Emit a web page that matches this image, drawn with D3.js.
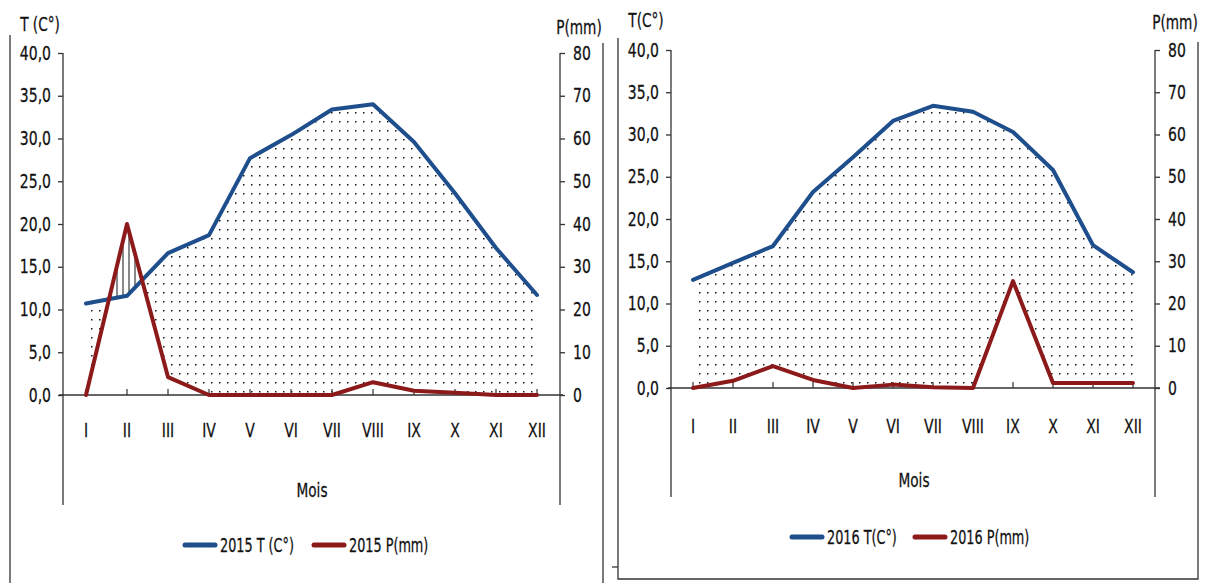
<!DOCTYPE html>
<html>
<head>
<meta charset="utf-8">
<script src="https://cdn.jsdelivr.net/npm/d3@7"></script>
<style>
  html, body { margin: 0; padding: 0; background: #fff; }
  svg { display: block; }
  text { font-family: "DejaVu Sans Condensed", "DejaVu Sans", sans-serif; fill: #111; stroke: #111; stroke-width: 0.25px; }
</style>
</head>
<body>
<svg id="chart" width="1205" height="583"></svg>
<script>
// Monthly climate data (temperature in °C, precipitation in mm)
const months = ["I", "II", "III", "IV", "V", "VI", "VII", "VIII", "IX", "X", "XI", "XII"];
const temp2015 = [10.7, 11.6, 16.6, 18.7, 27.7, 30.4, 33.4, 34.0, 29.6, 23.6, 17.2, 11.7];
const precip2015 = [0, 40, 4.2, 0, 0, 0, 0, 3.0, 1.0, 0.5, 0, 0];
const temp2016 = [12.8, 14.8, 16.8, 23.2, 27.3, 31.6, 33.4, 32.7, 30.3, 25.8, 16.9, 13.7];
const precip2016 = [0, 1.7, 5.2, 1.9, 0, 0.8, 0.2, 0, 25.3, 1.2, 1.2, 1.2];
const tempTicks = [0, 5, 10, 15, 20, 25, 30, 35, 40];
const precipTicks = [0, 10, 20, 30, 40, 50, 60, 70, 80];

const BLUE = "#1f4e8c";
const RED = "#8c1a1a";
const FONT = 19;

// narrow the glyphs horizontally without moving the anchor point
function narrow(sel, s) {
  sel.each(function () {
    const t = d3.select(this);
    const x = +(t.attr("x") || 0);
    t.attr("x", x / s).attr("transform", `scale(${s},1)`);
  });
}

const svg = d3.select("#chart");
const defs = svg.append("defs");

// fill patterns: dots for the dry season, vertical hatching for the wet season
const dots = defs.append("pattern").attr("id", "dots")
  .attr("patternUnits", "userSpaceOnUse").attr("width", 8).attr("height", 9);
dots.append("rect").attr("x", 3).attr("y", 4).attr("width", 1.5).attr("height", 1.5).attr("fill", "#1a1a1a");

const hatch = defs.append("pattern").attr("id", "hatch")
  .attr("patternUnits", "userSpaceOnUse").attr("width", 6).attr("height", 10);
hatch.append("line").attr("x1", 3).attr("x2", 3).attr("y1", 0).attr("y2", 10)
  .attr("stroke", "#111").attr("stroke-width", 1);

const fmtT = d => d3.format(".1f")(d).replace(".", ",");

const panels = [
  {
    id: "p2015", temp: temp2015, precip: precip2015,
    xRange: [86, 537], yBottom: 395, yTop: 53, axisLeft: 63, axisRight: 560, axisEnd: 505,
    tTitle: "T (C°)", tTitlePos: [40, 31], pTitlePos: [579, 34],
    monthY: 437, moisPos: [312, 497],
    legendY: 545, legendText: ["2015 T (C°)", "2015 P(mm)"], legendX: [183, 312],
    xAxisSpan: [59, 563]
  },
  {
    id: "p2016", temp: temp2016, precip: precip2016,
    xRange: [693, 1133], yBottom: 388, yTop: 50, axisLeft: 671, axisRight: 1155, axisEnd: 497,
    tTitle: "T(C°)", tTitlePos: [646, 27], pTitlePos: [1175, 29],
    monthY: 433, moisPos: [914, 487],
    legendY: 537, legendText: ["2016 T(C°)", "2016 P(mm)"], legendX: [790, 913],
    xAxisSpan: [668, 1160]
  }
];

panels.forEach(p => {
  const g = svg.append("g");
  const x = d3.scalePoint().domain(months).range(p.xRange);
  const yT = d3.scaleLinear().domain([0, 40]).range([p.yBottom, p.yTop]);
  const yP = d3.scaleLinear().domain([0, 80]).range([p.yBottom, p.yTop]);

  const rows = months.map((m, i) => ({ m, t: p.temp[i], p: p.precip[i] }));

  // clip regions above each curve
  const aboveP = d3.area().x(d => x(d.m)).y0(0).y1(d => yP(d.p));
  const aboveT = d3.area().x(d => x(d.m)).y0(0).y1(d => yT(d.t));
  defs.append("clipPath").attr("id", p.id + "-aboveP").append("path").attr("d", aboveP(rows));
  defs.append("clipPath").attr("id", p.id + "-aboveT").append("path").attr("d", aboveT(rows));

  const underT = d3.area().x(d => x(d.m)).y0(p.yBottom).y1(d => yT(d.t));
  const underP = d3.area().x(d => x(d.m)).y0(p.yBottom).y1(d => yP(d.p));

  // dry period: temperature above precipitation
  g.append("path").attr("d", underT(rows)).attr("fill", "url(#dots)")
    .attr("clip-path", `url(#${p.id}-aboveP)`);
  // wet period: precipitation above temperature
  g.append("path").attr("d", underP(rows)).attr("fill", "url(#hatch)")
    .attr("clip-path", `url(#${p.id}-aboveT)`);

  // category axis
  g.append("line").attr("x1", p.xAxisSpan[0]).attr("x2", p.xAxisSpan[1])
    .attr("y1", p.yBottom).attr("y2", p.yBottom).attr("stroke", "#333").attr("stroke-width", 1.3);
  g.selectAll(".xt").data(months).join("line")
    .attr("x1", d => x(d)).attr("x2", d => x(d))
    .attr("y1", p.yBottom).attr("y2", p.yBottom - 6).attr("stroke", "#333").attr("stroke-width", 1.2);
  const ml = g.selectAll(".xl").data(months).join("text")
    .attr("x", d => x(d)).attr("y", p.monthY).attr("text-anchor", "middle")
    .attr("font-size", FONT).text(d => d);
  narrow(ml, 0.82);

  // temperature axis (left)
  const axT = d3.axisLeft(yT).tickValues(tempTicks).tickFormat(fmtT).tickSize(5).tickPadding(7);
  const gT = g.append("g").attr("transform", `translate(${p.axisLeft},0)`).call(axT);
  gT.attr("font-family", null);
  gT.select(".domain").remove();
  gT.selectAll(".tick line").attr("stroke", "#333").attr("stroke-width", 1.3);
  const tl = gT.selectAll(".tick text").attr("font-size", FONT).attr("fill", null);
  narrow(tl, 0.82);
  g.append("line").attr("x1", p.axisLeft).attr("x2", p.axisLeft)
    .attr("y1", p.yTop).attr("y2", p.axisEnd).attr("stroke", "#333").attr("stroke-width", 1.3);

  // precipitation axis (right)
  const axP = d3.axisRight(yP).tickValues(precipTicks).tickFormat(d3.format("d")).tickSize(5).tickPadding(8);
  const gP = g.append("g").attr("transform", `translate(${p.axisRight},0)`).call(axP);
  gP.attr("font-family", null);
  gP.select(".domain").remove();
  gP.selectAll(".tick line").attr("stroke", "#333").attr("stroke-width", 1.3);
  const pl = gP.selectAll(".tick text").attr("font-size", FONT).attr("fill", null);
  narrow(pl, 0.82);
  g.append("line").attr("x1", p.axisRight).attr("x2", p.axisRight)
    .attr("y1", p.yTop).attr("y2", p.axisEnd).attr("stroke", "#333").attr("stroke-width", 1.3);

  // series lines
  const lineT = d3.line().x(d => x(d.m)).y(d => yT(d.t));
  const lineP = d3.line().x(d => x(d.m)).y(d => yP(d.p));
  g.append("path").attr("d", lineT(rows)).attr("fill", "none").attr("stroke", BLUE)
    .attr("stroke-width", 4).attr("stroke-linejoin", "round").attr("stroke-linecap", "round");
  g.append("path").attr("d", lineP(rows)).attr("fill", "none").attr("stroke", RED)
    .attr("stroke-width", 4).attr("stroke-linejoin", "round").attr("stroke-linecap", "round");

  // titles
  const titles = g.append("g");
  titles.append("text").attr("x", p.tTitlePos[0]).attr("y", p.tTitlePos[1]).attr("text-anchor", "middle")
    .attr("font-size", FONT).text(p.tTitle);
  titles.append("text").attr("x", p.pTitlePos[0]).attr("y", p.pTitlePos[1]).attr("text-anchor", "middle")
    .attr("font-size", FONT).text("P(mm)");
  titles.append("text").attr("x", p.moisPos[0]).attr("y", p.moisPos[1]).attr("text-anchor", "middle")
    .attr("font-size", FONT).text("Mois");
  narrow(titles.selectAll("text"), 0.8);

  // legend
  [BLUE, RED].forEach((c, i) => {
    const lx = p.legendX[i];
    g.append("line").attr("x1", lx + 2).attr("x2", lx + 32).attr("y1", p.legendY).attr("y2", p.legendY)
      .attr("stroke", c).attr("stroke-width", 5).attr("stroke-linecap", "round");
    const lt = g.append("text").attr("x", lx + 37).attr("y", p.legendY + 7).attr("font-size", FONT)
      .text(p.legendText[i]);
    narrow(lt, 0.75);
  });
});

// panel frames
const frame = svg.append("g").attr("stroke", "#333").attr("stroke-width", 1.3).attr("fill", "none");
frame.append("line").attr("x1", 10).attr("x2", 10).attr("y1", 35).attr("y2", 583);
frame.append("line").attr("x1", 603).attr("x2", 603).attr("y1", 43).attr("y2", 583);
frame.append("path").attr("d", "M618,38 V579 H1198 V42");
frame.append("line").attr("x1", 612).attr("x2", 618).attr("y1", 567).attr("y2", 567);
</script>
</body>
</html>
